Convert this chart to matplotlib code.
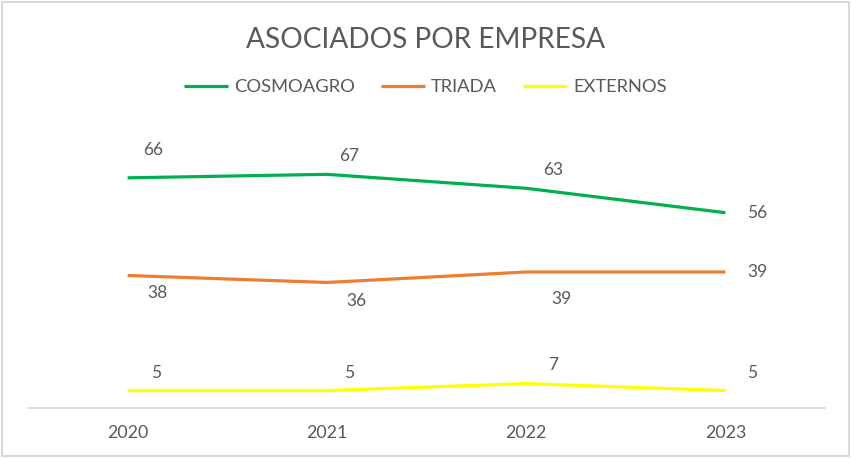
import matplotlib.pyplot as plt
from matplotlib.patches import Rectangle

years = ["2020", "2021", "2022", "2023"]
cosmoagro = [66, 67, 63, 56]
triada = [38, 36, 39, 39]
externos = [5, 5, 7, 5]

series = [
    ("COSMOAGRO", cosmoagro, "#00B050"),
    ("TRIADA", triada, "#ED7D31"),
    ("EXTERNOS", externos, "#FFFF00"),
]

# label offsets in pixels (dx, dy), per series
offsets = [
    [(26, 28), (22, 18), (27, 18), (32, 0)],
    [(30, -18), (29, -19), (35, -27), (32, 0)],
    [(28, 18), (22, 18), (27, 19), (27, 18)],
]

plt.rcParams['font.family'] = ['Lato', 'DejaVu Sans']
text_color = "#595959"

fig = plt.figure(figsize=(8.51, 4.58), dpi=100)
W, H = 851, 458
ax = fig.add_axes([28 / W, (H - 408) / H, (825 - 28) / W, (408 - 129) / H])

x = list(range(len(years)))
for (name, vals, color), offs in zip(series, offsets):
    ax.plot(x, vals, color=color, lw=2.3, label=name, solid_capstyle='butt')
    for xi, v, (dx, dy) in zip(x, vals, offs):
        ax.annotate(str(v), (xi, v), xytext=(dx * 0.72, dy * 0.72),
                    textcoords='offset points', ha='center', va='center',
                    fontsize=12.5, color=text_color)

ax.set_xlim(-0.5, 3.5)
ax.set_ylim(0, 80)
ax.set_xticks(x)
ax.set_xticklabels(years, fontsize=12.8, color=text_color)
ax.set_yticks([])
ax.tick_params(axis='x', length=0, pad=12)
for s in ['top', 'right', 'left']:
    ax.spines[s].set_visible(False)
ax.spines['bottom'].set_color("#D9D9D9")
ax.spines['bottom'].set_linewidth(1.2)

fig.text(0.5, (H - 40) / H, "ASOCIADOS POR EMPRESA", ha='center', va='center',
         fontsize=20.2, color=text_color)
fig.legend(loc='center', bbox_to_anchor=(0.5, (H - 87) / H), ncol=3,
           frameon=False, fontsize=13.2, labelcolor=text_color,
           handlelength=2.4, handletextpad=0.3, columnspacing=1.45)

fig.patches.append(Rectangle((2 / W, 2 / H), (W - 4) / W, (H - 4) / H,
                             transform=fig.transFigure, fill=False,
                             edgecolor="#D9D9D9", lw=1.5))

fig.savefig("out.png", dpi=100)
